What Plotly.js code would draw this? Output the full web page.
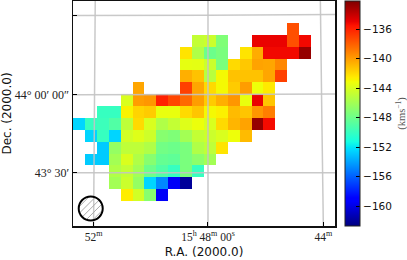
<!DOCTYPE html>
<html><head><meta charset="utf-8">
<script src="https://cdn.plot.ly/plotly-3.0.1.min.js"></script>
<style>html,body{margin:0;padding:0;background:#fff}</style></head>
<body><div id="chart" style="width:407px;height:260px"></div>
<script>
const _ = null;
// Velocity per cell (km/s); rows run north to south, columns east to west
const row00 = [_,_,_,_,_,_,_,_,_,_,_,_,_,_,_,_,_,_,-137.5,_];
const row01 = [_,_,_,_,_,_,_,_,_,_,-144.8,-144.5,-147.3,_,_,-135,-135,-135,-137.5,-135.2];
const row02 = [_,_,_,_,_,_,_,_,_,-142.3,-145.5,-148,-147.5,_,-142.3,-140.5,-135.2,-135.2,-135.2,-132.8];
const row03 = [_,_,_,_,_,_,_,_,_,-143.5,-143.6,-144.5,-147.5,-142,-141.4,-140.2,-140.3,-139.3,_,_];
const row04 = [_,_,_,_,_,_,_,_,_,-140.6,-141.2,-145.2,-143,-141.2,-141.2,-141.2,-140.3,-137,_,_];
const row05 = [_,_,_,_,_,-140.3,_,_,_,-137,-140.3,-142,-143,-141.5,-140,-143.2,-142.5,_,_,_];
const row06 = [_,_,_,_,-144,-140,-139.8,-136,-137.2,-138.3,-140,-141.5,-140.6,-139.8,-143.4,-135,-141.3,_,_,_];
const row07 = [_,_,-150,-150,-142.8,-141.8,-141.5,-143.4,-143.4,-142,-141.3,-143,-142.7,-141,-141.3,-139.8,-139,_,_,_];
const row08 = [-152.5,-150,-149.8,-149,-145,-142,-144,-145.5,-144.8,-143.8,-143.3,-144,-142,-140.8,-140.2,-132.8,-135.3,_,_,_];
const row09 = [_,-152.5,-150,-152.5,-144.3,-143.8,-144.4,-147,-147.3,-146,-144.8,-144.5,-144,-143.2,-141,_,_,_,_,_];
const row10 = [_,_,-152.8,-146.5,-145,-145,-145.5,-147.8,-148,-147.5,-145.5,-145,-142.3,_,_,_,_,_,_,_];
const row11 = [_,-152.8,-152.8,-146,-144,-145.5,-147,-148.3,-148.5,-147.5,-146.8,-146,_,_,_,_,_,_,_,_];
const row12 = [_,_,_,-145.5,-144.8,-146,-148,-149,-150,-147.5,-150,_,_,_,_,_,_,_,_,_];
const row13 = [_,_,_,-146,-144.5,-146.5,-152.5,-154.8,-159.5,-162,_,_,_,_,_,_,_,_,_,_];
const row14 = [_,_,_,_,-142.6,-144.3,-147,-159.5,_,_,_,_,_,_,_,_,_,_,_,_];
const velocity = [row00,row01,row02,row03,row04,row05,row06,row07,row08,row09,row10,row11,row12,row13,row14];

const xTickVals = [1.23, 10.85, 20.55];
const xTickText = ['52<sup>m</sup>', '15<sup>h</sup> 48<sup>m</sup> 00<sup>s</sup>', '44<sup>m</sup>'];
const yTickVals = [-1.15, 5.51, 12.08];
const yTickLabels = ['', '44° 00′ 00″', '43° 30′'];
const cbTicks = [-136,-140,-144,-148,-152,-156,-160];

// Curved coordinate grid (R.A. meridians and Dec. parallels)
const merid52x = [1.37, 1.3, 1.23];
const merid48x = [10.85, 10.85, 10.85];
const merid44x = [20.3, 20.42, 20.55];
const meridY = [-2.35, 7.1, 16.56];
const par1y = [-1.13, -1.15, -1.21];
const par2y = [5.53, 5.51, 5.47];
const par3y = [12.08, 12.08, 12.08];
const parX = [-0.5, 10.85, 21.53];

// Beam: centre and radius in cell units
const beamX = 0.99, beamY = 15.09, beamRx = 1.01, beamRy = 1.01;
const hatchOffsets = [-0.8,-0.4,0,0.4,0.8];

const jet = [[0,'rgb(0,0,127)'],[.11,'rgb(0,0,255)'],[.125,'rgb(0,0,255)'],[.34,'rgb(0,219,255)'],[.35,'rgb(0,230,247)'],[.375,'rgb(20,255,226)'],[.64,'rgb(239,255,8)'],[.65,'rgb(247,245,0)'],[.66,'rgb(255,236,0)'],[.89,'rgb(255,19,0)'],[.91,'rgb(232,0,0)'],[1,'rgb(127,0,0)']];

const hx = [], hy = [];
hatchOffsets.forEach(d => {
  const half = Math.sqrt(1 - d*d/(beamRx*beamRx));
  const cx = beamX + d*Math.SQRT1_2, cy = beamY + d*Math.SQRT1_2;
  hx.push(cx - half*Math.SQRT1_2, cx + half*Math.SQRT1_2, null);
  hy.push(cy + half*Math.SQRT1_2, cy - half*Math.SQRT1_2, null);
});

const gridLine = {color:'rgba(195,195,195,0.9)', width:1.5, shape:'spline'};
const line = (x,y) => ({type:'scatter',mode:'lines',x,y,line:gridLine,hoverinfo:'skip',showlegend:false});
const serif = '"Liberation Serif", "Times New Roman", serif';

const traces = [
 {type:'heatmap', z:velocity, zmin:-162.7, zmax:-132.2, colorscale:jet, hoverongaps:false,
  colorbar:{thickness:15, thicknessmode:'pixels', len:225, lenmode:'pixels', x:1.038, xanchor:'left', xpad:0, y:0.5, yanchor:'middle', ypad:0,
   tickvals:cbTicks, ticktext:cbTicks.map(v=>'−'+Math.abs(v)), ticks:'inside', ticklen:4, tickwidth:1, tickcolor:'#000',
   outlinecolor:'#222', outlinewidth:1, tickfont:{family:'DejaVu Sans',size:10.5,color:'#111'},
   title:{text:'(kms<sup>−1</sup>)', side:'right', font:{family:serif,size:10.5,color:'#555'}}}},
 line(merid52x,meridY), line(merid48x,meridY), line(merid44x,meridY),
 line(parX,par1y), line(parX,par2y), line(parX,par3y),
 {type:'scatter',mode:'lines',x:hx,y:hy,line:{color:'#aaa',width:1},hoverinfo:'skip',showlegend:false}
];

const layout = {
 width:407, height:260, margin:{l:73,r:72,t:1,b:34,pad:0,autoexpand:false}, paper_bgcolor:'#fff', plot_bgcolor:'#fff', showlegend:false,
 xaxis:{range:[-0.5,21.53], tickvals:xTickVals, ticktext:xTickText, ticks:'inside', ticklen:4, tickcolor:'#000', showgrid:false, zeroline:false,
   showline:true, mirror:true, linecolor:'#111', linewidth:1.5, tickfont:{family:serif,size:11.5,color:'#222'},
   title:{text:'R.A. (2000.0)', standoff:5, font:{family:'DejaVu Sans',size:12,color:'#111'}}},
 yaxis:{range:[16.56,-2.35], tickvals:yTickVals, ticktext:yTickLabels, ticks:'inside', ticklen:4, tickcolor:'#000', showgrid:false, zeroline:false,
   showline:true, mirror:true, linecolor:'#111', linewidth:1.5, tickfont:{family:serif,size:12,color:'#222'},
   title:{text:'Dec. (2000.0)', standoff:8, font:{family:'DejaVu Sans',size:12,color:'#111'}}},
 shapes:[{type:'circle',xref:'x',yref:'y',x0:beamX-beamRx,x1:beamX+beamRx,y0:beamY-beamRy,y1:beamY+beamRy,line:{color:'#000',width:2},layer:'above'}]
};
Plotly.newPlot('chart', traces, layout, {displayModeBar:false, staticPlot:true});
</script></body></html>
